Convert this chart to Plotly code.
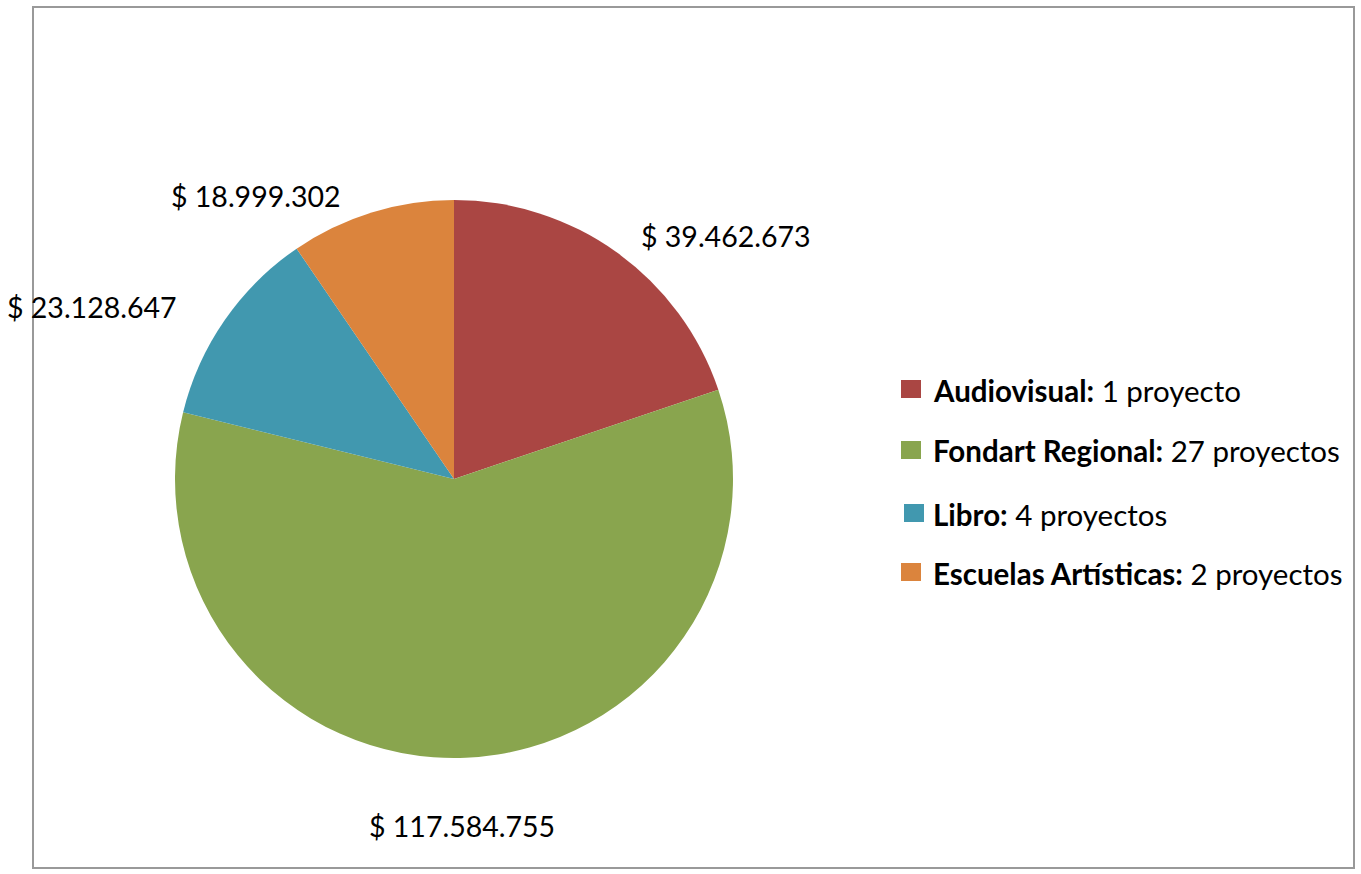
import plotly.graph_objects as go

W, H = 1361, 874

# ---- data ----
categories = ["Audiovisual", "Fondart Regional", "Libro", "Escuelas Artísticas"]
amounts = [39462673, 117584755, 23128647, 18999302]
project_counts = [1, 27, 4, 2]
colors = ["#AA4643", "#89A54E", "#4198AF", "#DB843D"]


def fmt_money(v):
    return "$ " + f"{v:,}".replace(",", ".")


def fmt_projects(n):
    return f"{n} proyecto" if n == 1 else f"{n} proyectos"


FONT = "Lato, Carlito, Calibri, sans-serif"

# pie geometry (pixels)
cx, cy, r = 454, 479, 279

fig = go.Figure()
fig.add_trace(go.Pie(
    labels=categories,
    values=amounts,
    sort=False,
    direction="clockwise",
    rotation=0,
    marker=dict(colors=colors, line=dict(width=0)),
    textinfo="none",
    hoverinfo="label+value",
    showlegend=False,
    domain=dict(x=[(cx - r) / W, (cx + r) / W],
                y=[1 - (cy + r) / H, 1 - (cy - r) / H]),
))

# value labels (text placement only)
label_pos = [(726, 236), (462, 826), (92, 307), (256, 196)]
annotations = []
for v, (lx, ly) in zip(amounts, label_pos):
    annotations.append(dict(
        x=lx / W, y=1 - ly / H, xref="paper", yref="paper",
        text=fmt_money(v), showarrow=False,
        xanchor="center", yanchor="middle",
        font=dict(family=FONT, size=28.5, color="#000000"),
    ))

# custom legend
legend_rows = [390, 451, 514, 573]
legend_sq_x = [901, 901, 904, 901]
shapes = []
for cat, n, col, ry, sx in zip(categories, project_counts, colors, legend_rows, legend_sq_x):
    shapes.append(dict(
        type="rect", xref="paper", yref="paper",
        x0=sx / W, x1=(sx + 20) / W,
        y0=1 - (ry + 8) / H, y1=1 - (ry - 10) / H,
        fillcolor=col, line=dict(width=0),
    ))
    annotations.append(dict(
        x=931 / W, y=1 - ry / H, xref="paper", yref="paper",
        text=f"<b>{cat}:</b> {fmt_projects(n)}", showarrow=False,
        xanchor="left", yanchor="middle",
        font=dict(family=FONT, size=29.5, color="#000000"),
    ))

# chart frame
shapes.append(dict(
    type="rect", xref="paper", yref="paper",
    x0=33 / W, x1=1354 / W, y0=1 - 868 / H, y1=1 - 7 / H,
    line=dict(color="#999999", width=2), fillcolor="rgba(0,0,0,0)",
    layer="below",
))

fig.update_layout(
    width=W, height=H,
    margin=dict(l=0, r=0, t=0, b=0),
    paper_bgcolor="#FFFFFF",
    plot_bgcolor="#FFFFFF",
    showlegend=False,
    annotations=annotations,
    shapes=shapes,
    font=dict(family=FONT),
)

fig.write_html(
    "out.html",
    config={"displayModeBar": False},
    post_script="document.body.style.margin='0';document.body.style.padding='0';",
)
